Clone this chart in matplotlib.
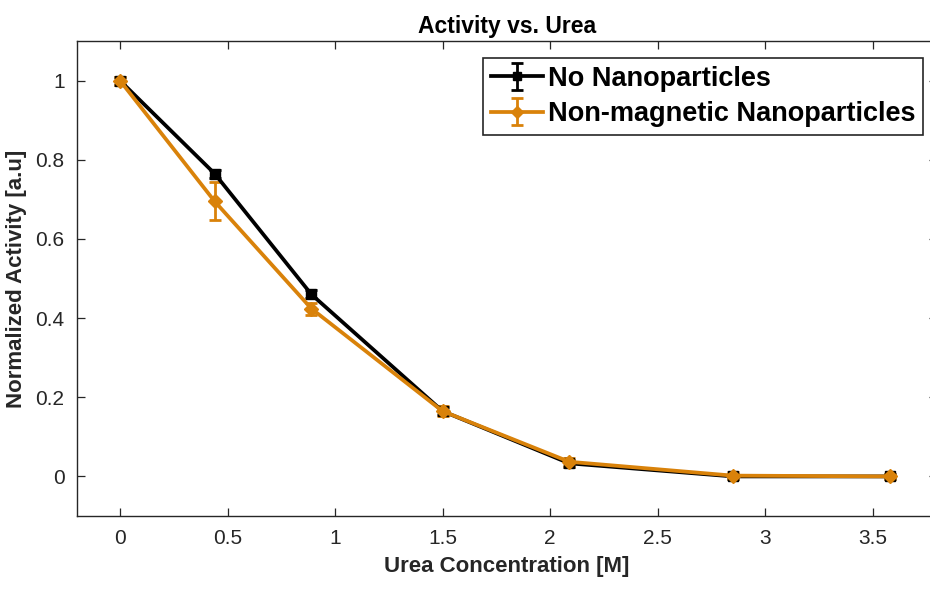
import matplotlib
matplotlib.use('Agg')
from matplotlib import pyplot as plt

# data
urea = [0, 0.44, 0.89, 1.5, 2.09, 2.85, 3.58]
no_np = [1.0, 0.765, 0.46, 0.165, 0.033, 0.0, 0.0]
no_np_err = [0.01, 0.01, 0.01, 0.01, 0.008, 0.006, 0.006]
nonmag_np = [1.0, 0.695, 0.424, 0.165, 0.037, 0.002, 0.0]
nonmag_np_err = [0.01, 0.048, 0.015, 0.012, 0.01, 0.008, 0.006]

xticks = [0, 0.5, 1, 1.5, 2, 2.5, 3, 3.5]
xticklabels = ['0', '0.5', '1', '1.5', '2', '2.5', '3', '3.5']
yticks = [0, 0.2, 0.4, 0.6, 0.8, 1]
yticklabels = ['0', '0.2', '0.4', '0.6', '0.8', '1']

orange = '#D9820A'
fam = ['Liberation Sans', 'DejaVu Sans']
plt.rcParams['font.family'] = fam

fig = plt.figure(figsize=(9.30, 5.89), dpi=100)
# axes runs past the right edge of the figure, like the cropped original
ax = fig.add_axes([77/930, 1-516/589, (937-77)/930, (516-41)/589])

ax.errorbar(urea, no_np, yerr=no_np_err, color='k', lw=2.7, marker='s', ms=7.5,
            capsize=4, elinewidth=2, capthick=2, label='No Nanoparticles')
ax.errorbar(urea, nonmag_np, yerr=nonmag_np_err, color=orange, lw=2.7, marker='D', ms=7.5,
            capsize=4, elinewidth=2, capthick=2, label='Non-magnetic Nanoparticles')

ax.set_xlim(-0.2, 3.8)
ax.set_ylim(-0.1, 1.1)
ax.set_xticks(xticks)
ax.set_xticklabels(xticklabels)
ax.set_yticks(yticks)
ax.set_yticklabels(yticklabels)
ax.tick_params(direction='in', top=True, right=True, length=6, width=0.9,
               labelsize=15, colors='#262626', pad=9)
for s in ax.spines.values():
    s.set_color('#262626')
    s.set_linewidth(1.0)

ax.set_xlabel('Urea Concentration [M]', fontsize=16, fontweight='bold',
              color='#262626', labelpad=6)
ax.set_ylabel('Normalized Activity [a.u]', fontsize=16, fontweight='bold',
              color='#262626', labelpad=6)
ax.set_title('Activity vs. Urea', fontsize=16.5, fontweight='bold', pad=6)

leg = ax.legend(loc='upper right', bbox_to_anchor=(923/930, 1-58/589),
                bbox_transform=fig.transFigure, borderaxespad=0, fancybox=False,
                framealpha=1, edgecolor='#262626', prop={'weight': 'bold', 'size': 19.5},
                handlelength=1.9, handletextpad=0.2, borderpad=0.28,
                labelspacing=0.36, markerscale=0.8)
leg.get_frame().set_linewidth(1.2)

fig.savefig('out.png', dpi=100)
